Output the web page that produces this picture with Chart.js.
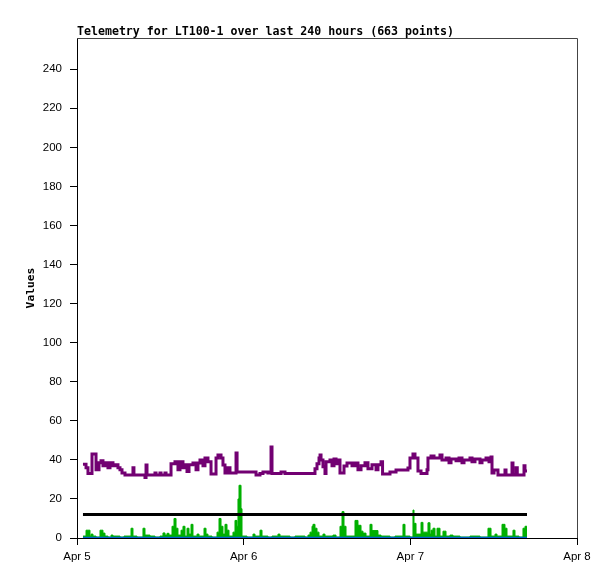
<!DOCTYPE html>
<html lang="en">
<head>
    <meta charset="UTF-8">
    <title>Telemetry for LT100-1</title>
    <script src="https://cdn.jsdelivr.net/npm/chart.js"></script>
    <style>
        body { margin: 0; background: #fff; }
        canvas { display: block; }
    </style>
</head>
<body>
    <canvas id="telemetryChart" width="615" height="579"></canvas>

    <script>
        // Hours since Apr 5 00:00
        const dayLabels = ['Apr 5', 'Apr 6', 'Apr 7', 'Apr 8'];
        const dayTicks = [0, 24, 48, 72];
        const valueTicks = [0, 20, 40, 60, 80, 100, 120, 140, 160, 180, 200, 220, 240];

        const purpleHours = [0.86, 1.30, 1.58, 2.16, 2.74, 3.17, 3.46, 3.74, 4.03, 4.46, 4.75, 5.18, 5.47, 5.90, 6.19, 6.48, 6.91,
            8.06, 8.20, 9.79, 9.94, 10.08, 11.23, 11.38, 11.95, 12.10, 12.67, 12.82, 13.54, 14.11, 14.54, 14.83, 15.26, 15.55,
            15.84, 16.13, 16.70, 17.14, 17.42, 17.71, 18.14, 18.43, 18.86, 19.30, 20.02, 20.30, 20.74, 21.02, 21.31, 21.60,
            22.03, 22.90, 23.05, 25.78, 26.35, 26.78, 27.50, 27.94, 28.08, 29.38, 29.95, 33.98, 34.27, 34.56, 34.85, 35.00,
            35.14, 35.42, 35.71, 35.86, 36.43, 36.72, 37.01, 37.30, 37.58, 37.87, 38.45, 38.88, 39.60, 40.03, 40.46, 40.90,
            41.47, 41.90, 42.48, 43.06, 43.34, 43.78, 44.00, 45.07, 45.94, 47.66, 47.95, 48.38, 48.67, 49.10, 49.54, 50.40,
            50.54, 50.98, 51.41, 52.27, 52.56, 53.14, 53.57, 53.86, 54.58, 55.01, 55.44, 55.73, 56.59, 56.88, 57.31, 58.03,
            58.32, 58.90, 59.33, 59.62, 59.76, 60.05, 60.62, 61.63, 61.78, 62.64, 62.78, 63.22, 63.40, 64.37, 64.51, 64.80];
        const purpleValues = [37.7, 36, 33, 43, 35, 38.5, 39.5, 37, 38.5, 36, 38.5, 37, 37.5, 36, 35, 33.3, 32.3,
            36, 32.3, 31, 37.4, 32.3, 33.3, 32.3, 33.3, 32.3, 33.3, 32.3, 38, 39, 35, 39, 36, 37.5,
            34, 37.5, 38.4, 35, 38.4, 40, 37, 41, 39, 32.8, 41, 42.5, 41, 37.4, 33.3, 36,
            33.3, 43.5, 33.8, 32.3, 33, 33.8, 33.3, 46.6, 33, 33.8, 33, 33, 35.5, 38, 41, 42.5,
            40, 36.5, 33, 39, 40, 37, 40.5, 38, 40, 33.3, 36.9, 38.4, 37, 38.4, 35, 37,
            38.5, 35.5, 37.5, 35, 37.5, 39, 32.8, 33.8, 34.8, 35.8, 41, 43, 41, 34.3, 33, 35,
            41, 42, 41, 42.5, 40, 41, 38.5, 40.5, 39.5, 41, 38.5, 40, 41, 39, 40.5, 38.5,
            40, 41, 39, 41.5, 33.3, 34.8, 32.3, 34.8, 32.3, 38.4, 32.3, 36, 32.3, 37, 34.3, 34.3];

        const greenHours = [0.86, 1.30, 1.87, 2.02, 2.30, 2.74, 3.31, 3.74, 4.03, 4.46, 4.90, 5.18, 6.19, 6.77, 7.78, 8.06,
            8.64, 9.50, 9.79, 10.51, 11.23, 11.95, 12.38, 12.67, 12.96, 13.25, 13.68, 13.97, 14.26, 14.54, 14.98, 15.26,
            15.55, 15.84, 16.13, 16.42, 16.70, 17.28, 17.57, 18.29, 18.58, 18.86, 19.44, 20.16, 20.45, 20.74, 21.02, 21.31,
            21.60, 21.89, 22.46, 22.75, 23.04, 23.18, 23.33, 23.62, 23.76, 24.48, 25.34, 25.63, 26.35, 26.64, 27.50, 28.08,
            28.94, 29.23, 30.67, 31.39, 32.83, 33.26, 33.55, 33.84, 33.98, 34.27, 34.56, 34.85, 35.42, 35.71, 36.86, 37.30,
            37.87, 38.16, 38.45, 38.74, 40.03, 40.46, 40.90, 41.18, 41.62, 42.19, 42.48, 43.34, 43.78, 45.07, 45.79, 46.94,
            47.23, 47.95, 48.38, 48.53, 48.82, 49.54, 49.82, 50.54, 50.83, 50.98, 51.26, 51.55, 51.84, 52.27, 52.70, 53.14,
            53.71, 54.14, 55.15, 56.59, 58.03, 59.18, 59.62, 60.19, 60.48, 61.20, 61.63, 61.92, 62.78, 63.07, 63.65, 64.22,
            64.51, 64.80];
        const greenValues = [1, 4, 1, 2, 1, 0.5, 4, 2.5, 1, 0.5, 1.5, 1, 0.5, 1, 5, 1,
            0.5, 5, 1.5, 1, 0.5, 1, 2.6, 1.5, 2.4, 1.5, 6, 10, 5, 1.5, 4, 6,
            1, 5, 2, 7, 1, 2, 1, 5, 2, 1, 0.5, 3, 10, 6, 2, 7,
            4, 1, 3, 9, 6, 20, 27, 15, 1, 0.5, 2, 1, 4, 1, 0.5, 1,
            2, 1, 0.5, 1, 0.5, 1.5, 3, 6, 7, 5, 3, 1, 2, 1, 1.5, 0.5,
            6, 13.5, 6, 1, 9, 6.5, 3.5, 2.5, 1, 7, 3.8, 1.5, 1, 0.5, 1, 7,
            1, 0.5, 14.3, 7.5, 2, 8, 3, 7.8, 2, 4, 5, 1, 5, 1, 3.5, 1,
            1.5, 1, 0.5, 1, 0.5, 5, 1, 2, 1, 7, 5, 1, 4, 1, 0.5, 5,
            6, 6];

        const refHours = [0.86, 64.80];
        const thresholdValues = [12, 12];
        const baseValues = [0, 0];

        const toPoints = (xs, ys) => xs.map((x, i) => ({ x: x, y: ys[i] }));

        // Gray frame on top and right, plus the title over the plot area
        const framePlugin = {
            id: 'frame',
            afterDraw(chart) {
                const { ctx, chartArea: a } = chart;
                ctx.save();
                ctx.strokeStyle = '#444';
                ctx.lineWidth = 1;
                ctx.beginPath();
                ctx.moveTo(a.left, a.top + 0.5);
                ctx.lineTo(a.right + 0.5, a.top + 0.5);
                ctx.lineTo(a.right + 0.5, a.bottom);
                ctx.stroke();
                ctx.fillStyle = '#000';
                ctx.font = 'bold 11.6px "DejaVu Sans Mono"';
                ctx.textBaseline = 'alphabetic';
                ctx.textAlign = 'left';
                ctx.fillText('Telemetry for LT100-1 over last 240 hours (663 points)', a.left, a.top - 3);
                ctx.restore();
            }
        };

        new Chart(document.getElementById('telemetryChart'), {
            type: 'line',
            data: {
                datasets: [
                    {
                        label: 'threshold',
                        data: toPoints(refHours, thresholdValues),
                        borderColor: '#000000',
                        borderWidth: 3
                    },
                    {
                        label: 'base',
                        data: toPoints(refHours, baseValues),
                        borderColor: '#0066cc',
                        borderWidth: 2.5
                    },
                    {
                        label: 'value',
                        data: toPoints(purpleHours, purpleValues),
                        borderColor: '#720072',
                        borderWidth: 3,
                        borderJoinStyle: 'miter',
                        stepped: true
                    },
                    {
                        label: 'rate',
                        data: toPoints(greenHours, greenValues),
                        borderColor: '#00b000',
                        backgroundColor: '#00b000',
                        borderWidth: 1,
                        stepped: true,
                        fill: 'origin'
                    }
                ]
            },
            options: {
                responsive: false,
                animation: false,
                devicePixelRatio: 1,
                layout: { padding: { top: 38, right: 38, left: 0, bottom: 0 } },
                elements: { point: { radius: 0 } },
                plugins: {
                    legend: { display: false },
                    title: { display: false },
                    tooltip: { enabled: false }
                },
                scales: {
                    x: {
                        type: 'linear',
                        min: 0,
                        max: 72,
                        afterFit: s => { s.height = 41; },
                        afterBuildTicks: s => { s.ticks = dayTicks.map(v => ({ value: v })); },
                        border: { color: '#000', width: 1 },
                        grid: { drawOnChartArea: false, drawTicks: true, tickLength: 7, color: '#000' },
                        ticks: {
                            color: '#000',
                            padding: 5,
                            maxRotation: 0,
                            font: { family: 'Liberation Sans', size: 11.5 },
                            callback: v => dayLabels[dayTicks.indexOf(v)]
                        }
                    },
                    y: {
                        min: 0,
                        max: 256,
                        afterFit: s => { s.width = 77; },
                        afterBuildTicks: s => { s.ticks = valueTicks.map(v => ({ value: v })); },
                        border: { color: '#000', width: 1 },
                        grid: { drawOnChartArea: false, drawTicks: true, tickLength: 7, color: '#000' },
                        ticks: {
                            color: '#000',
                            padding: 8,
                            font: { family: 'Liberation Sans', size: 11.5 }
                        },
                        title: {
                            display: true,
                            text: 'Values',
                            color: '#000',
                            padding: { top: 24, bottom: 0 },
                            font: { family: 'DejaVu Sans Mono', size: 11.3, weight: 'bold' }
                        }
                    }
                }
            },
            plugins: [framePlugin]
        });
    </script>
</body>
</html>
